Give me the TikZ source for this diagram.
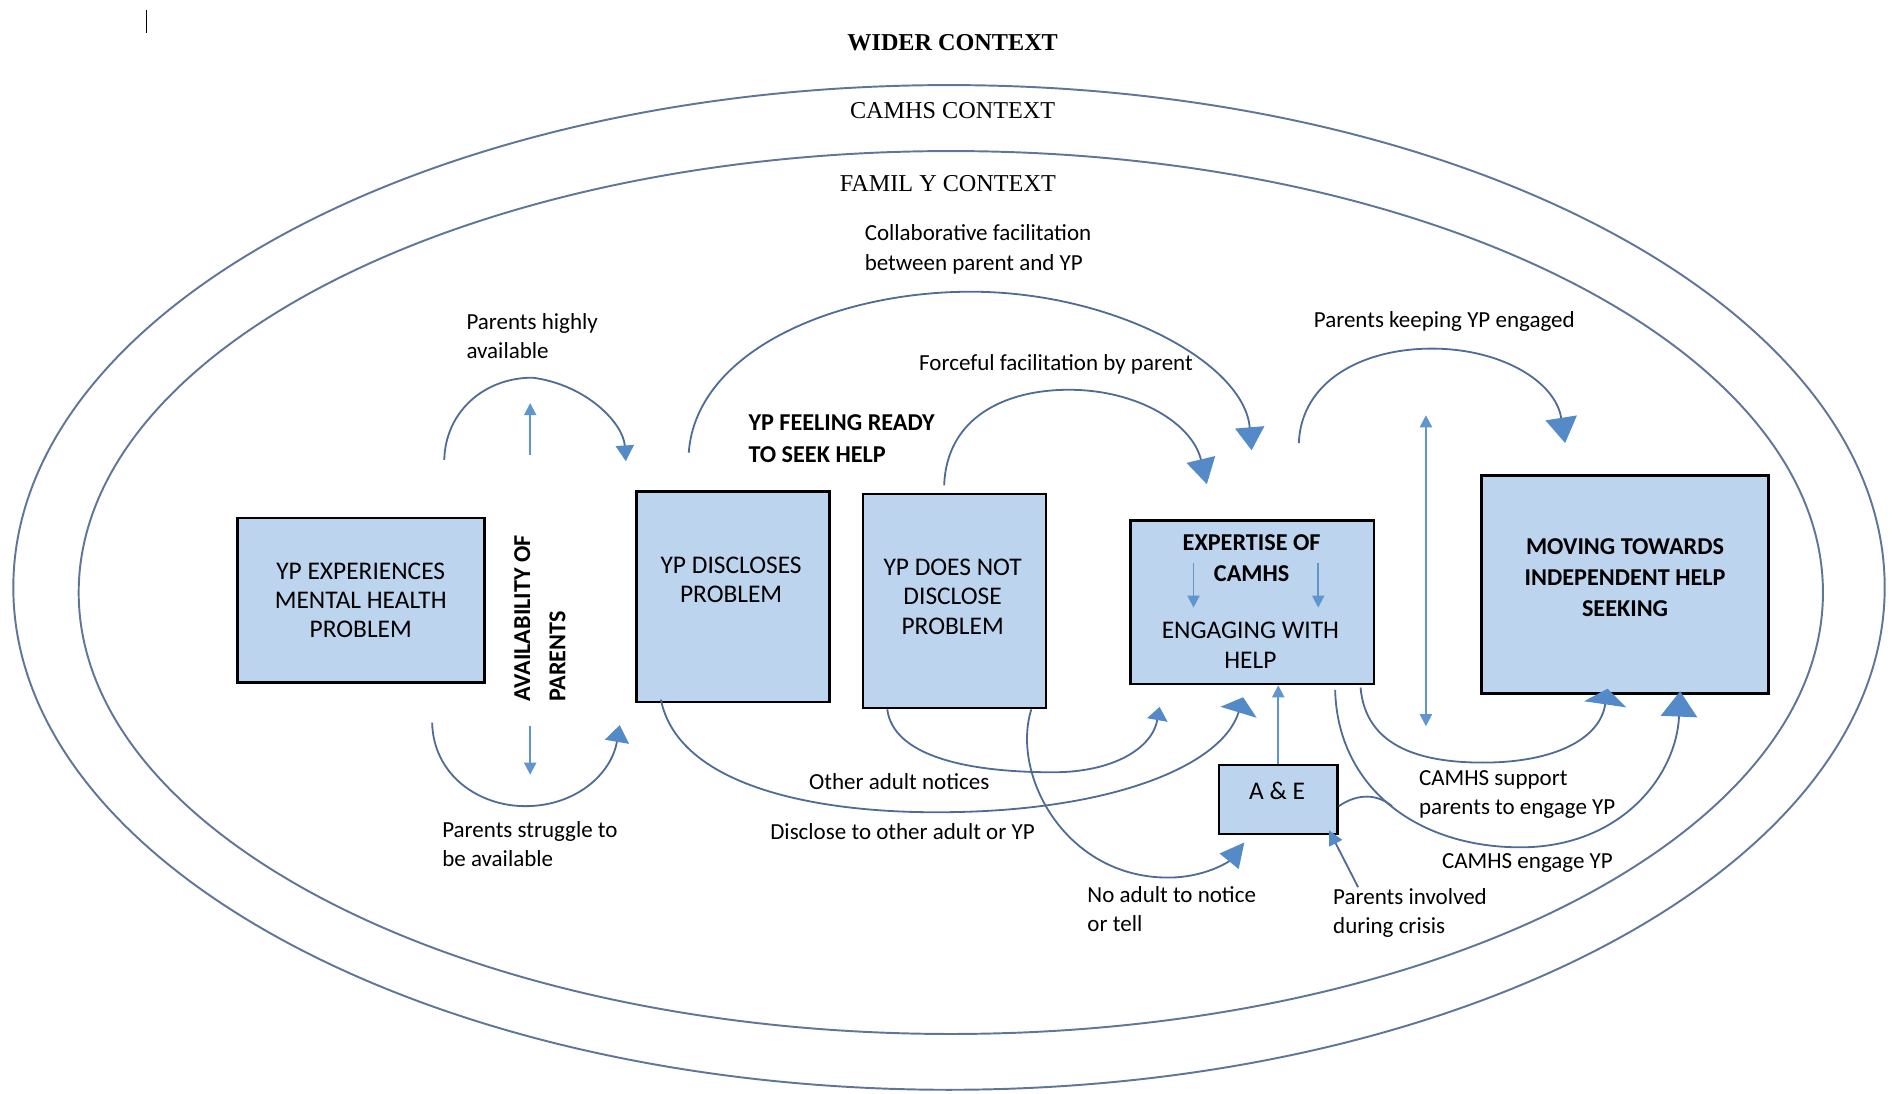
\documentclass[tikz,border=0pt]{standalone}
\usepackage{fontspec}
\setmainfont{Carlito}
\newfontfamily\ctxfont{Liberation Serif}
\usetikzlibrary{arrows.meta}

\definecolor{boxblue}{RGB}{188,212,237}
\definecolor{flowline}{RGB}{78,108,150}
\definecolor{ringline}{RGB}{95,118,152}
\definecolor{headblue}{RGB}{84,138,200}
\definecolor{smallblue}{RGB}{96,150,205}

\tikzset{
  stage/.style={draw=black, line width=1.1pt, fill=boxblue, inner sep=0pt, align=center,
    font=\fontsize{10.5}{12}\selectfont},
  stagetxt/.style={inner sep=0pt, align=center, font=\fontsize{10.5}{12.3}\selectfont},
  stagebold/.style={stagetxt, font=\fontsize{10}{12.8}\selectfont\bfseries},
  lbl/.style={inner sep=0pt, anchor=west, align=left, font=\fontsize{9.5}{12}\selectfont},
  ctx/.style={inner sep=0pt, font=\ctxfont\fontsize{10}{12}\selectfont},
  ring/.style={draw=ringline, line width=0.8pt},
  flow/.style={draw=flowline, line width=0.75pt},
  tiphead/.style 2 args={flow, -{Triangle[width=#1,length=#2,color=headblue]}},
  smallarrow/.style={draw=smallblue, line width=0.8pt, -{Triangle[width=5pt,length=5pt]}},
}

\begin{document}
\begin{tikzpicture}[x=0.5pt,y=-0.5pt]
\useasboundingbox (0,0) rectangle (1568,903);

% text cursor left in the screenshot
\draw[line width=0.6pt] (121,8) -- (121,27);

% context rings
\draw[ring] (784,485.3) ellipse [x radius=773, y radius=415];
\draw[ring] (785.5,489.5) ellipse [x radius=720.5, y radius=364.7];
\node[ctx, font=\ctxfont\bfseries\fontsize{10}{12}\selectfont] (wider) at (787,35) {WIDER CONTEXT};
\node[ctx] (camhsctx) at (787,91) {CAMHS CONTEXT};
\node[ctx] (familyctx) at (783,151.5) {FAMIL Y CONTEXT};

% stages
\node[stage, minimum width=102pt, minimum height=68pt] (onset) at (298,496) {YP EXPERIENCES\\MENTAL HEALTH\\PROBLEM};
\node[stage, minimum width=79.5pt, minimum height=87pt] (disc) at (605.5,493) {};
\node[stagetxt] (disc-txt) at (604,479) {YP DISCLOSES\\PROBLEM};
\node[stage, minimum width=75.5pt, minimum height=88.5pt] (nodisc) at (788.5,496.5) {};
\node[stagetxt] (nodisc-txt) at (787,493) {YP DOES NOT\\DISCLOSE\\PROBLEM};
\node[stage, minimum width=100.5pt, minimum height=67.5pt] (help) at (1034.5,497.5) {};
\node[stagetxt, font=\fontsize{10}{12.5}\selectfont\bfseries] (expert-txt) at (1034,461) {EXPERTISE OF\\CAMHS};
\node[stagetxt] (engage-txt) at (1033,533) {ENGAGING WITH\\HELP};
\node[stage, minimum width=118.5pt, minimum height=90pt] (indep) at (1342.5,483) {};
\node[stagebold] (indep-txt) at (1342.5,477.5) {MOVING TOWARDS\\INDEPENDENT HELP\\SEEKING};
\node[stage, minimum width=49pt, minimum height=28.5pt] (ae) at (1056,660.5) {};
\node[stagetxt] (ae-txt) at (1055,653) {A \& E};

% labels
\node[lbl] (highly) at (385,278) {Parents highly\\available};
\node[lbl] (struggle) at (365,697) {Parents struggle to\\be available};
\node[inner sep=0pt, align=left, rotate=90, font=\fontsize{10}{14.5}\selectfont\bfseries] (avail) at (446,511) {AVAILABILITY OF\\PARENTS};
\node[lbl, font=\fontsize{10}{13.5}\selectfont\bfseries] (ready) at (618,362.5) {YP FEELING READY\\TO SEEK HELP};
\node[lbl] (collab) at (714,206) {Collaborative facilitation\\between parent and YP};
\node[lbl] (force) at (759,301) {Forceful facilitation by parent};
\node[lbl] (keep) at (1085,266) {Parents keeping YP engaged};
\node[lbl] (other) at (668,645.5) {Other adult notices};
\node[lbl] (tell) at (636,687) {Disclose to other adult or YP};
\node[lbl] (noadult) at (898,751) {No adult to notice\\or tell};
\node[lbl] (crisis) at (1101,754) {Parents involved\\during crisis};
\node[lbl] (support) at (1172,656) {CAMHS support\\parents to engage YP};
\node[lbl] (engage) at (1191,713) {CAMHS engage YP};

% free ends of the flows
\coordinate (hi-s) at (367,380);
\coordinate (hi-e) at (517,381);
\coordinate (lo-s) at (357,597);
\coordinate (lo-e) at (512,599);
\coordinate (up-s) at (438,376);
\coordinate (up-e) at (438,333);
\coordinate (dn-s) at (438,600);
\coordinate (dn-e) at (438,640);
\coordinate (co-s) at (569,374);
\coordinate (co-e) at (1034,372);
\coordinate (fo-s) at (780,401);
\coordinate (fo-e) at (997,400);
\coordinate (ke-s) at (1073,366);
\coordinate (ke-e) at (1293,366);
\coordinate (dis-s) at (546,578);
\coordinate (dis-e) at (1027,576);
\coordinate (oth-s) at (733,586);
\coordinate (oth-e) at (958,584);
\coordinate (noa-s) at (852,586);
\coordinate (noa-e) at (1028,696);
\coordinate (cr-s) at (1122,733);
\coordinate (cr-e) at (1098,686);
\coordinate (ae-out) at (1106,666);
\coordinate (join) at (1150,666);
\coordinate (sup-s) at (1124,568);
\coordinate (sup-e) at (1328,569);
\coordinate (eng-s) at (1103,570);
\coordinate (eng-e) at (1388,571);
\coordinate (dbl-t) at (1178,343);
\coordinate (dbl-b) at (1178,600);
\coordinate (exl-s) at (986,465);
\coordinate (exl-e) at (986,502);
\coordinate (exr-s) at (1089,465);
\coordinate (exr-e) at (1089,502);

% availability of parents
\draw[tiphead={7.5pt}{6.5pt}] (hi-s) .. controls (368,340) and (400,312) .. (440,312)
  .. controls (485,318) and (515,350) .. (hi-e);
\draw[tiphead={10pt}{7pt}] (lo-s) .. controls (358,640) and (395,666) .. (434,666)
  .. controls (475,666) and (505,640) .. (lo-e);
\draw[smallarrow] (up-s) -- (up-e);
\draw[smallarrow] (dn-s) -- (dn-e);

% facilitation by parents
\draw[tiphead={12pt}{9.5pt}] (co-s) .. controls (575,290) and (690,241) .. (802,241)
  .. controls (920,241) and (1028,300) .. (co-e);
\draw[tiphead={12pt}{10.5pt}] (fo-s) .. controls (782,345) and (830,322) .. (883,322)
  .. controls (940,322) and (985,350) .. (fo-e);
\draw[tiphead={13pt}{10.5pt}] (ke-s) .. controls (1075,315) and (1125,288) .. (1183,288)
  .. controls (1240,288) and (1285,315) .. (ke-e);

% other routes into help
\draw[tiphead={15.5pt}{6.5pt}] (dis-s) .. controls (560,648) and (670,672) .. (780,671)
  .. controls (920,670) and (1010,632) .. (dis-e);
\draw[tiphead={8.5pt}{5.5pt}] (oth-s) .. controls (738,625) and (800,638) .. (870,638)
  .. controls (920,638) and (952,618) .. (oth-e);
\draw[tiphead={10pt}{10pt}] (noa-s) .. controls (835,640) and (880,725) .. (965,725)
  .. controls (995,725) and (1015,712) .. (noa-e);
\draw[tiphead={6pt}{6pt}] (cr-s) -- (cr-e);
\draw[smallarrow] (ae.north) -- (ae.north |- help.south);

% towards independence
\draw[tiphead={17.5pt}{6.5pt}] (sup-s) .. controls (1128,615) and (1170,630) .. (1225,630)
  .. controls (1285,630) and (1322,610) .. (sup-e);
\draw[tiphead={15pt}{10.5pt}] (eng-s) .. controls (1105,650) and (1170,700) .. (1256,700)
  .. controls (1340,700) and (1385,640) .. (eng-e);
\draw[flow] (ae-out) .. controls (1122,655) and (1138,656) .. (join);
\draw[draw=smallblue, line width=0.8pt, {Triangle[width=5pt,length=5pt]}-{Triangle[width=5pt,length=5pt]}] (dbl-t) -- (dbl-b);

% expertise of CAMHS -> engaging with help
\draw[smallarrow] (exl-s) -- (exl-e);
\draw[smallarrow] (exr-s) -- (exr-e);
\end{tikzpicture}
\end{document}
